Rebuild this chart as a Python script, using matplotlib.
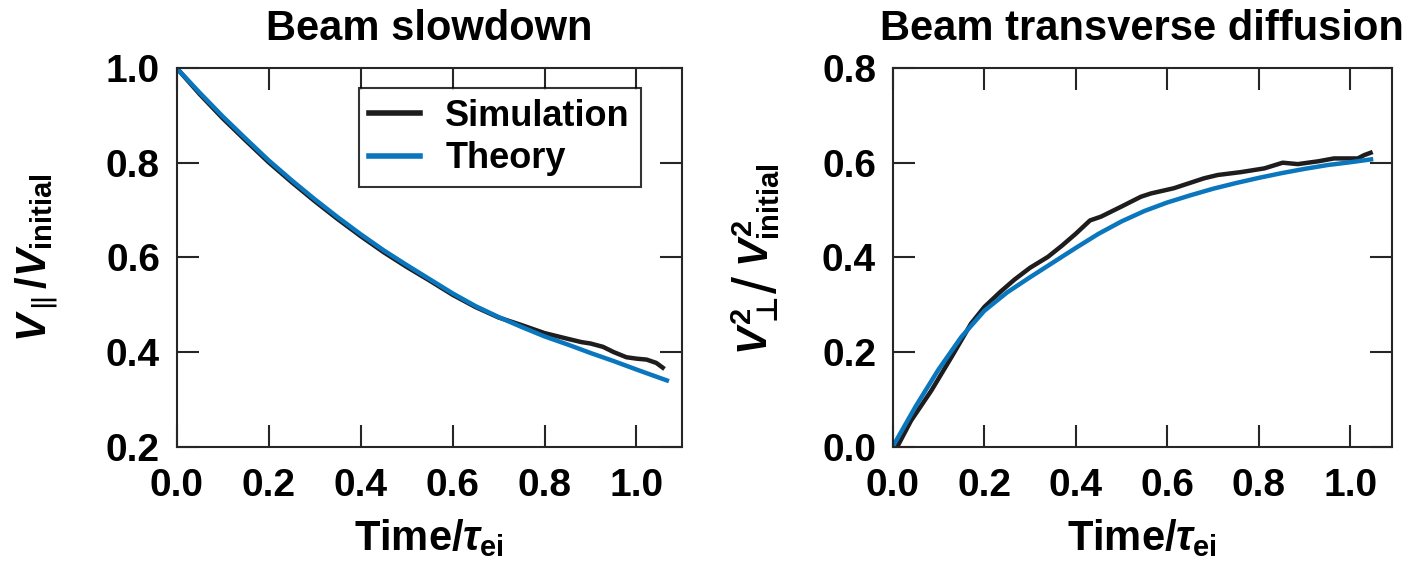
import matplotlib
matplotlib.use('Agg')
import matplotlib.pyplot as plt

plt.rcParams['font.family'] = ['Liberation Sans', 'DejaVu Sans']
plt.rcParams['font.weight'] = 'bold'
plt.rcParams['mathtext.fontset'] = 'custom'
plt.rcParams['mathtext.rm'] = 'Liberation Sans:bold'
plt.rcParams['mathtext.it'] = 'Liberation Sans:italic:bold'
plt.rcParams['mathtext.bf'] = 'Liberation Sans:bold'
plt.rcParams['mathtext.sf'] = 'DejaVu Sans'
plt.rcParams['mathtext.fallback'] = 'stixsans'

# beam slowdown (left)
t_theory_par = [0.0, 0.05, 0.1, 0.15, 0.2, 0.25, 0.3, 0.35, 0.4, 0.45, 0.5, 0.55,
                0.6, 0.65, 0.7, 0.75, 0.8, 0.85, 0.9, 0.95, 1.0, 1.066]
v_theory_par = [1.0, 0.948, 0.898, 0.851, 0.805, 0.763, 0.723, 0.685, 0.649, 0.615, 0.584, 0.554,
                0.524, 0.497, 0.474, 0.453, 0.433, 0.416, 0.398, 0.381, 0.363, 0.34]
t_sim_par = [0.0, 0.05, 0.1, 0.15, 0.2, 0.25, 0.3, 0.35, 0.4, 0.45, 0.5, 0.55, 0.6, 0.65, 0.7,
             0.75, 0.8, 0.85, 0.88, 0.9, 0.927, 0.95, 0.978, 1.0, 1.022, 1.043, 1.057]
v_sim_par = [1.0, 0.945, 0.894, 0.847, 0.801, 0.759, 0.719, 0.681, 0.645, 0.611, 0.58, 0.551,
             0.521, 0.495, 0.473, 0.457, 0.44, 0.428, 0.421, 0.418, 0.411, 0.40, 0.389, 0.386,
             0.384, 0.377, 0.367]

# transverse diffusion (right)
t_theory_perp = [0.0, 0.05, 0.1, 0.15, 0.2, 0.25, 0.3, 0.35, 0.4, 0.45, 0.5, 0.55, 0.6,
                 0.65, 0.7, 0.75, 0.8, 0.85, 0.9, 0.95, 1.0, 1.045]
v_theory_perp = [0.0, 0.085, 0.163, 0.232, 0.287, 0.326, 0.358, 0.389, 0.42, 0.45, 0.476, 0.498,
                 0.516, 0.531, 0.545, 0.557, 0.568, 0.578, 0.587, 0.595, 0.601, 0.607]
t_sim_perp = [0.01, 0.04, 0.084, 0.13, 0.171, 0.2, 0.235, 0.266, 0.3, 0.339, 0.37, 0.4, 0.431,
              0.455, 0.499, 0.542, 0.564, 0.614, 0.68, 0.71, 0.76, 0.812, 0.852, 0.885, 0.93,
              0.964, 1.016, 1.03, 1.044]
v_sim_perp = [0.0, 0.055, 0.118, 0.192, 0.26, 0.295, 0.327, 0.353, 0.378, 0.401, 0.425, 0.45,
              0.478, 0.486, 0.507, 0.528, 0.535, 0.546, 0.567, 0.574, 0.58, 0.588, 0.60, 0.597,
              0.603, 0.609, 0.609, 0.616, 0.621]

black = '#1e1c1c'
blue = '#0a76bd'
fs = 28

fig = plt.figure(figsize=(14.05, 5.65), dpi=100)
ax1 = fig.add_axes([0.1257, 0.2094, 0.3594, 0.6702])
ax2 = fig.add_axes([0.6354, 0.2094, 0.3551, 0.6702])

ax1.plot(t_sim_par, v_sim_par, color=black, lw=3.2, label='Simulation')
ax1.plot(t_theory_par, v_theory_par, color=blue, lw=3.2, label='Theory')
ax1.set_xlim(0, 1.098)
ax1.set_ylim(0.2, 1.0)
ax1.set_yticks([0.2, 0.4, 0.6, 0.8, 1.0])
ax1.set_title('Beam slowdown', fontsize=30, fontweight='bold', pad=20)
ax1.set_ylabel(r'$V_{\parallel}/V_{\rm initial}$', fontsize=30, labelpad=32)
leg = ax1.legend(loc='upper right', bbox_to_anchor=(0.919, 0.947), fontsize=26, frameon=True,
                 fancybox=False, edgecolor='black', handlelength=1.4, handletextpad=0.7,
                 labelspacing=0.2, borderpad=0.3, borderaxespad=0)
leg.get_frame().set_linewidth(1.5)
for line in leg.get_lines():
    line.set_linewidth(4)

ax2.plot(t_sim_perp, v_sim_perp, color=black, lw=3.2)
ax2.plot(t_theory_perp, v_theory_perp, color=blue, lw=3.2)
ax2.set_xlim(0, 1.09)
ax2.set_ylim(0, 0.8)
ax2.set_yticks([0.0, 0.2, 0.4, 0.6, 0.8])
ax2.set_title('Beam transverse diffusion', fontsize=30, fontweight='bold', pad=20)
# y label in three pieces so the slash can be large
ax2.text(-0.275, 0.319, r'$V_{\mathsf{\bot}}^2$', transform=ax2.transAxes, rotation=90,
         fontsize=30, ha='center', va='center')
ax2.text(-0.266, 0.427, '/', transform=ax2.transAxes, rotation=90, fontsize=44,
         fontweight='normal', ha='center', va='center')
ax2.text(-0.274, 0.612, r'$V_{\rm initial}^2$', transform=ax2.transAxes, rotation=90,
         fontsize=30, ha='center', va='center')

for ax in (ax1, ax2):
    ax.set_xticks([0.0, 0.2, 0.4, 0.6, 0.8, 1.0])
    ax.xaxis.set_major_formatter(matplotlib.ticker.FormatStrFormatter('%.1f'))
    ax.yaxis.set_major_formatter(matplotlib.ticker.FormatStrFormatter('%.1f'))
    ax.tick_params(direction='in', length=16, width=1.5, labelsize=fs, top=True, right=True,
                   color='#262626', pad=12)
    ax.tick_params(axis='x', pad=15)
    for lab in ax.get_xticklabels() + ax.get_yticklabels():
        lab.set_fontweight('bold')
    for sp in ax.spines.values():
        sp.set_linewidth(1.5)
        sp.set_color('#262626')
    ax.set_xlabel(r'Time/$\tau_{\rm ei}$', fontsize=30, fontweight='bold', labelpad=10)

fig.savefig('out.png', dpi=100)
